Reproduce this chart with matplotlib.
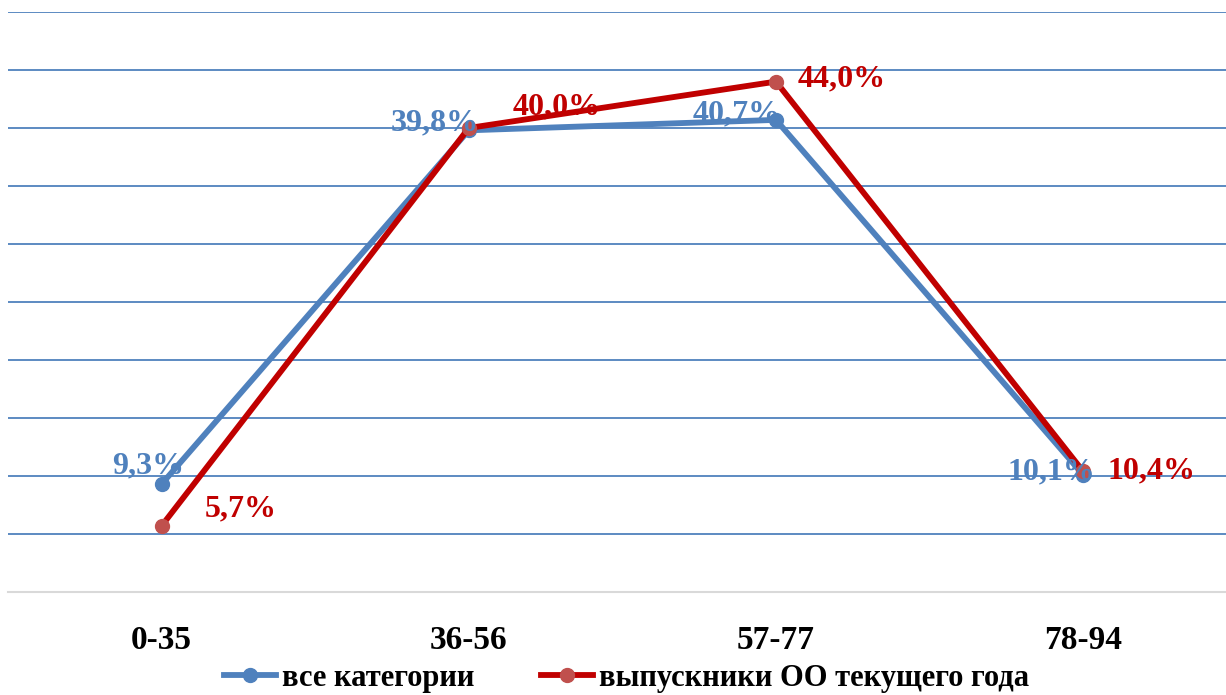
import numpy as np
import matplotlib.pyplot as plt
from matplotlib.lines import Line2D
#--------------------------------------
plt.rcParams['font.family'] = ['Liberation Serif', 'DejaVu Serif']
plt.rcParams['font.weight'] = 'bold'

categories = ['0-35', '36-56', '57-77', '78-94']
allValues  = [9.3, 39.8, 40.7, 10.1]
gradValues = [5.7, 40.0, 44.0, 10.4]
allName    = 'все категории'
gradName   = 'выпускники ОО текущего года'

blue      = '#4F81BD'
red       = '#C00000'
redMarker = '#C0504D'

# label offsets in pixels (dx, dy)
allOffsets  = [(23, 18), (10, 7), (5, 6), (12, 3)]
gradOffsets = [(43, 17), (44, 21), (22, 3), (24, 0)]
#--------------------------------------
fig = plt.figure(figsize=(12.26, 6.95), dpi=100)
ax  = fig.add_axes([8/1226, 103/695, 1218/1226, 580/695])

xData = np.arange(len(categories))
ax.plot(xData, allValues, '-o', color=blue, linewidth=4.2, markersize=10,
        markerfacecolor=blue, markeredgecolor=blue, zorder=3)
ax.plot(xData, gradValues, '-o', color=red, linewidth=4.2, markersize=10,
        markerfacecolor=redMarker, markeredgecolor=redMarker, zorder=4)

for x, v, (dx, dy) in zip(xData, allValues, allOffsets):
    ax.annotate('{:.1f}%'.format(v).replace('.', ','), (x, v), xytext=(dx, dy),
                textcoords='offset pixels', ha='right', va='center',
                color=blue, fontsize=23, fontweight='bold', zorder=5)
for x, v, (dx, dy) in zip(xData, gradValues, gradOffsets):
    ax.annotate('{:.1f}%'.format(v).replace('.', ','), (x, v), xytext=(dx, dy),
                textcoords='offset pixels', ha='left', va='center',
                color=red, fontsize=23, fontweight='bold', zorder=5)

ax.set_xlim(-0.5, 3.465)
ax.set_ylim(0, 50)
ax.set_yticks(np.arange(5, 51, 5))
ax.yaxis.grid(True, color=blue, linewidth=1.3)
ax.tick_params(axis='y', left=False, labelleft=False)
ax.set_xticks(xData)
ax.set_xticklabels(categories, fontsize=24, fontweight='bold')
ax.tick_params(axis='x', length=0, pad=24)
for s in ['left', 'right', 'top']:
    ax.spines[s].set_visible(False)
ax.spines['bottom'].set_color('#D9D9D9')
ax.spines['bottom'].set_linewidth(1.5)
ax.set_axisbelow(True)

handles = [Line2D([], [], color=blue, linewidth=4.2, marker='o', markersize=10,
                  markerfacecolor=blue, markeredgecolor=blue),
           Line2D([], [], color=red, linewidth=4.2, marker='o', markersize=10,
                  markerfacecolor=redMarker, markeredgecolor=redMarker)]
fig.legend(handles, [allName, gradName], loc='lower center', bbox_to_anchor=(0.511, -0.036),
           ncol=2, frameon=False, prop={'size': 22, 'weight': 'bold'},
           handlelength=1.7, handletextpad=0.2, columnspacing=2.2)

fig.savefig('out.png', dpi=100)
